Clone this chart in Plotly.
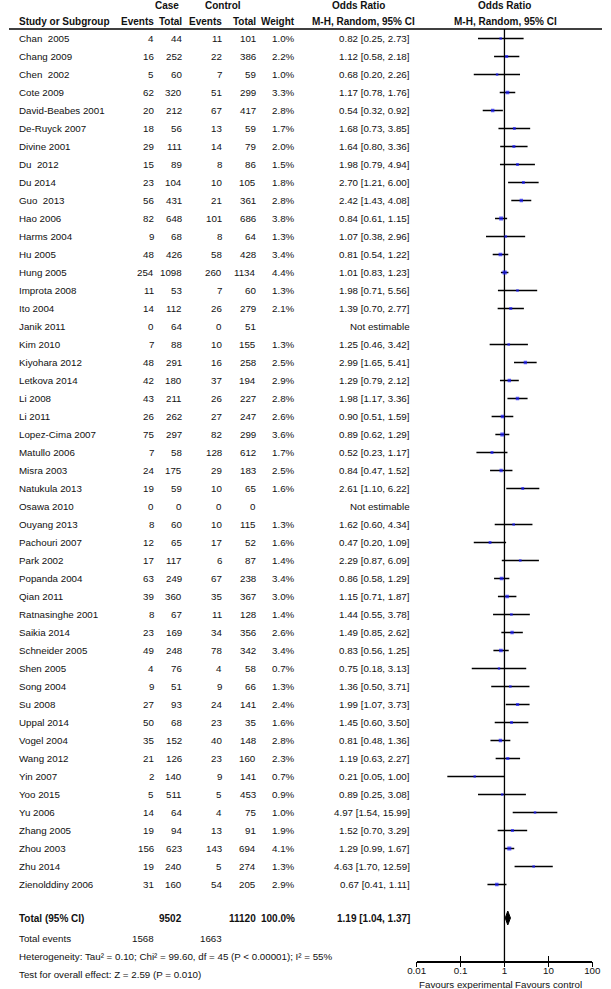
import plotly.graph_objects as go

W, H = 611, 989

studies = ["Chan \u00a02005", "Chang 2009", "Chen \u00a02002", "Cote 2009", "David-Beabes 2001",
           "De-Ruyck 2007", "Divine 2001", "Du \u00a02012", "Du 2014", "Guo \u00a02013", "Hao 2006",
           "Harms 2004", "Hu 2005", "Hung 2005", "Improta 2008", "Ito 2004", "Janik 2011",
           "Kim 2010", "Kiyohara 2012", "Letkova 2014", "Li 2008", "Li 2011", "Lopez-Cima 2007",
           "Matullo 2006", "Misra 2003", "Natukula 2013", "Osawa 2010", "Ouyang 2013",
           "Pachouri 2007", "Park 2002", "Popanda 2004", "Qian 2011", "Ratnasinghe 2001",
           "Saikia 2014", "Schneider 2005", "Shen 2005", "Song 2004", "Su 2008", "Uppal 2014",
           "Vogel 2004", "Wang 2012", "Yin 2007", "Yoo 2015", "Yu 2006", "Zhang 2005",
           "Zhou 2003", "Zhu 2014", "Zienolddiny 2006"]
case_events = [4, 16, 5, 62, 20, 18, 29, 15, 23, 56, 82, 9, 48, 254, 11, 14, 0, 7, 48, 42, 43, 26,
               75, 7, 24, 19, 0, 8, 12, 17, 63, 39, 8, 23, 49, 4, 9, 27, 50, 35, 21, 2, 5, 14, 19,
               156, 19, 31]
case_total = [44, 252, 60, 320, 212, 56, 111, 89, 104, 431, 648, 68, 426, 1098, 53, 112, 64, 88,
              291, 180, 211, 262, 297, 58, 175, 59, 0, 60, 65, 117, 249, 360, 67, 169, 248, 76, 51,
              93, 68, 152, 126, 140, 511, 64, 94, 623, 240, 160]
ctrl_events = [11, 22, 7, 51, 67, 13, 14, 8, 10, 21, 101, 8, 58, 260, 7, 26, 0, 10, 16, 37, 26, 27,
               82, 128, 29, 10, 0, 10, 17, 6, 67, 35, 11, 34, 78, 4, 9, 24, 23, 40, 23, 9, 5, 4, 13,
               143, 5, 54]
ctrl_total = [101, 386, 59, 299, 417, 59, 79, 86, 105, 361, 686, 64, 428, 1134, 60, 279, 51, 155,
              258, 194, 227, 247, 299, 612, 183, 65, 0, 115, 52, 87, 238, 367, 128, 356, 342, 58, 66,
              141, 35, 148, 160, 141, 453, 75, 91, 694, 274, 205]
weights = [1.0, 2.2, 1.0, 3.3, 2.8, 1.7, 2.0, 1.5, 1.8, 2.8, 3.8, 1.3, 3.4, 4.4, 1.3, 2.1, None,
           1.3, 2.5, 2.9, 2.8, 2.6, 3.6, 1.7, 2.5, 1.6, None, 1.3, 1.6, 1.4, 3.4, 3.0, 1.4, 2.6,
           3.4, 0.7, 1.3, 2.4, 1.6, 2.8, 2.3, 0.7, 0.9, 1.0, 1.9, 4.1, 1.3, 2.9]
odds_ratio = [0.82, 1.12, 0.68, 1.17, 0.54, 1.68, 1.64, 1.98, 2.70, 2.42, 0.84, 1.07, 0.81, 1.01,
              1.98, 1.39, None, 1.25, 2.99, 1.29, 1.98, 0.90, 0.89, 0.52, 0.84, 2.61, None, 1.62,
              0.47, 2.29, 0.86, 1.15, 1.44, 1.49, 0.83, 0.75, 1.36, 1.99, 1.45, 0.81, 1.19, 0.21,
              0.89, 4.97, 1.52, 1.29, 4.63, 0.67]
ci_low = [0.25, 0.58, 0.20, 0.78, 0.32, 0.73, 0.80, 0.79, 1.21, 1.43, 0.61, 0.38, 0.54, 0.83, 0.71,
          0.70, None, 0.46, 1.65, 0.79, 1.17, 0.51, 0.62, 0.23, 0.47, 1.10, None, 0.60, 0.20, 0.87,
          0.58, 0.71, 0.55, 0.85, 0.56, 0.18, 0.50, 1.07, 0.60, 0.48, 0.63, 0.05, 0.25, 1.54, 0.70,
          0.99, 1.70, 0.41]
ci_high = [2.73, 2.18, 2.26, 1.76, 0.92, 3.85, 3.36, 4.94, 6.00, 4.08, 1.15, 2.96, 1.22, 1.23, 5.56,
           2.77, None, 3.42, 5.41, 2.12, 3.36, 1.59, 1.29, 1.17, 1.52, 6.22, None, 4.34, 1.09, 6.09,
           1.29, 1.87, 3.78, 2.62, 1.25, 3.13, 3.71, 3.73, 3.50, 1.36, 2.27, 1.00, 3.08, 15.99,
           3.29, 1.67, 12.59, 1.11]

total_case, total_ctrl, total_weight = 9502, 11120, "100.0%"
total_or, total_lo, total_hi = 1.19, 1.04, 1.37
total_events_case, total_events_ctrl = 1568, 1663
heterogeneity = "Heterogeneity: Tau\u00b2 = 0.10; Chi\u00b2 = 99.60, df = 45 (P < 0.00001); I\u00b2 = 55%"
overall = "Test for overall effect: Z = 2.59 (P = 0.010)"
tick_vals = [0.01, 0.1, 1, 10, 100]
tick_text = ["0.01", "0.1", "1", "10", "100"]

# ---- layout (pixel positions) ----
ROW0, STEP = 38.5, 18.0
Y_TOTAL, Y_EVENTS, Y_HET, Y_TEST = 918, 938, 956, 974
Y_HEAD1, Y_HEAD2, Y_LINE, Y_AXIS = 5, 21, 29, 961
Y_FAV = 984
X_STUDY, X_CE, X_CT, X_KE, X_KT, X_W, X_OR = 8.5, 151, 180, 222, 257, 297, 415
FONT = "Arial, Liberation Sans, sans-serif"
FS, FSB = 9.75, 10
n = len(studies)
row_y = [ROW0 + i * STEP for i in range(n)]

fig = go.Figure()

# CI lines
lx, ly = [], []
for lo, hi, y in zip(ci_low, ci_high, row_y):
    if lo is None:
        continue
    lx += [lo, hi, None]
    ly += [y, y, None]
fig.add_trace(go.Scatter(x=lx, y=ly, mode="lines", line=dict(color="black", width=1.7),
                         hoverinfo="skip", showlegend=False))

# vertical line at OR = 1
fig.add_trace(go.Scatter(x=[1, 1], y=[Y_LINE, Y_AXIS], mode="lines",
                         line=dict(color="black", width=1.3), hoverinfo="skip", showlegend=False))

# squares
px, py, ps = [], [], []
for o, w, y in zip(odds_ratio, weights, row_y):
    if o is None:
        continue
    px.append(o); py.append(y); ps.append(2.0 + 0.5 * w)
fig.add_trace(go.Scatter(x=px, y=py, mode="markers",
                         marker=dict(symbol="square", size=ps, color="#1a1aff", line=dict(width=0)),
                         showlegend=False))

# diamond
fig.add_trace(go.Scatter(x=[total_lo, total_or, total_hi, total_or, total_lo],
                         y=[Y_TOTAL, Y_TOTAL - 7, Y_TOTAL, Y_TOTAL + 7, Y_TOTAL],
                         mode="lines", fill="toself", fillcolor="black",
                         line=dict(color="black", width=1), showlegend=False))

ann = []


def txt(x, y, s, anchor="right", bold=False):
    ann.append(dict(x=x / W, y=y, xref="paper", yref="y", text=f"<b>{s}</b>" if bold else s,
                    showarrow=False, xanchor=anchor, yanchor="middle",
                    font=dict(family=FONT, size=FSB if bold else FS, color="#111")))


# headers
txt(163, Y_HEAD1, "Case", "center", True)
txt(220, Y_HEAD1, "Control", "center", True)
txt(360, Y_HEAD1, "Odds Ratio", "center", True)
txt(511, Y_HEAD1, "Odds Ratio", "center", True)
txt(X_STUDY, Y_HEAD2, "Study or Subgroup", "left", True)
txt(X_CE, Y_HEAD2, "Events", bold=True)
txt(X_CT, Y_HEAD2, "Total", bold=True)
txt(X_KE, Y_HEAD2, "Events", bold=True)
txt(X_KT, Y_HEAD2, "Total", bold=True)
txt(X_W, Y_HEAD2, "Weight", bold=True)
txt(365, Y_HEAD2, "M-H, Random, 95% CI", "center", True)
txt(512, Y_HEAD2, "M-H, Random, 95% CI", "center", True)

for i in range(n):
    y = row_y[i]
    txt(X_STUDY, y, studies[i], "left")
    txt(X_CE, y, str(case_events[i]))
    txt(X_CT, y, str(case_total[i]))
    txt(X_KE, y, str(ctrl_events[i]))
    txt(X_KT, y, str(ctrl_total[i]))
    if weights[i] is not None:
        txt(X_W, y, f"{weights[i]:.1f}%")
        txt(X_OR, y, f"{odds_ratio[i]:.2f} [{ci_low[i]:.2f}, {ci_high[i]:.2f}]")
    else:
        txt(X_OR, y, "Not estimable")

txt(X_STUDY, Y_TOTAL, "Total (95% CI)", "left", True)
txt(X_CT, Y_TOTAL, str(total_case), bold=True)
txt(X_KT, Y_TOTAL, str(total_ctrl), bold=True)
txt(X_W, Y_TOTAL, total_weight, bold=True)
txt(X_OR, Y_TOTAL, f"{total_or:.2f} [{total_lo:.2f}, {total_hi:.2f}]", bold=True)
txt(X_STUDY, Y_EVENTS, "Total events", "left")
txt(X_CE, Y_EVENTS, str(total_events_case))
txt(X_KE, Y_EVENTS, str(total_events_ctrl))
txt(X_STUDY, Y_HET, heterogeneity, "left")
txt(X_STUDY, Y_TEST, overall, "left")
txt(420, Y_FAV, "Favours experimental", "left")
txt(519, Y_FAV, "Favours control", "left")

axis_pos = 1 - Y_AXIS / H
fig.update_layout(
    width=W, height=H, margin=dict(l=0, r=0, t=0, b=0),
    paper_bgcolor="white", plot_bgcolor="rgba(0,0,0,0)",
    showlegend=False, annotations=ann,
    shapes=[dict(type="line", xref="paper", yref="y", x0=0, x1=1, y0=Y_LINE, y1=Y_LINE,
                 line=dict(color="black", width=1.5))],
    xaxis=dict(type="log", range=[-2, 2], domain=[420 / W, 601 / W], anchor="free",
               position=axis_pos, showline=True, linecolor="black", linewidth=1.5,
               ticks="inside", ticklen=5, tickwidth=1.5, tickcolor="black",
               tickvals=tick_vals, ticktext=tick_text, showgrid=False, zeroline=False,
               tickfont=dict(family=FONT, size=FS, color="#111"), fixedrange=True),
    xaxis2=dict(type="log", range=[-2, 2], domain=[420 / W, 601 / W], anchor="free",
                position=axis_pos, overlaying="x", showline=False, ticks="outside", ticklen=5,
                tickwidth=1.5, tickcolor="black", tickvals=tick_vals, showticklabels=False,
                showgrid=False, zeroline=False, fixedrange=True),
    yaxis=dict(domain=[0, 1], range=[H, 0], visible=False, fixedrange=True),
)
# invisible trace so that the overlay axis (outer tick halves) is drawn
fig.add_trace(go.Scatter(x=[1], y=[Y_AXIS], xaxis="x2", mode="markers",
                         marker=dict(opacity=0), hoverinfo="skip", showlegend=False))

fig.write_html("out.html", config={"displayModeBar": False, "staticPlot": True},
               post_script="document.body.style.margin='0';document.body.style.overflow='hidden';")
